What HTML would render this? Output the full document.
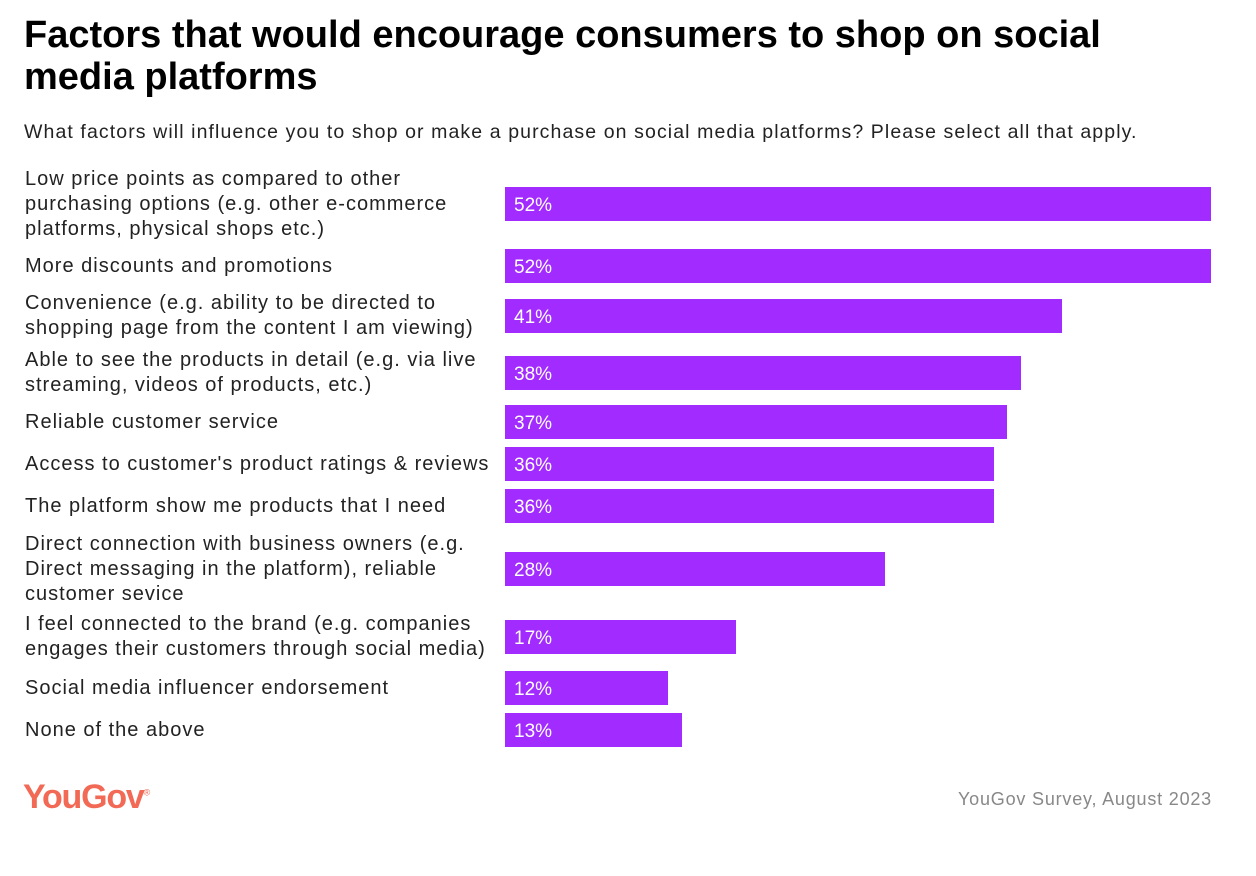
<!DOCTYPE html>
<html><head><meta charset="utf-8"><style>
body{margin:0;width:1256px;height:876px;background:#fff;font-family:"Liberation Sans",sans-serif;position:relative;overflow:hidden;color:#1a1a1a}
h1{position:absolute;left:24px;top:14px;margin:0;font-size:38px;line-height:42px;font-weight:bold;letter-spacing:0px;width:1130px;color:#000}
.sub{position:absolute;left:24px;top:121px;font-size:19.5px;letter-spacing:1.1px;color:#222;white-space:nowrap}
.lab{position:absolute;left:25px;font-size:20px;letter-spacing:1px;line-height:25px;color:#222;width:480px;white-space:nowrap}
.bar{position:absolute;height:34px;background:#a22bff}
.val{position:absolute;font-size:19px;color:#fff;line-height:34px}
.logo{position:absolute;left:23px;top:778px;font-size:34px;font-weight:bold;color:#f26a55;letter-spacing:-1.2px}
.src{position:absolute;right:44px;top:789px;font-size:18px;letter-spacing:0.8px;color:#888}
</style></head><body>
<h1>Factors that would encourage consumers to shop on social media platforms</h1>
<div class="sub">What factors will influence you to shop or make a purchase on social media platforms? Please select all that apply.</div>
<div id="chart"></div>
<div class="logo">YouGov<sup style="font-size:9px;font-weight:normal">®</sup></div>
<div class="src">YouGov Survey, August 2023</div>
<script>
const categories=["Low price points as compared to other<br>purchasing options (e.g. other e-commerce<br>platforms, physical shops etc.)","More discounts and promotions","Convenience (e.g. ability to be directed to<br>shopping page from the content I am viewing)","Able to see the products in detail (e.g. via live<br>streaming, videos of products, etc.)","Reliable customer service","Access to customer's product ratings &amp; reviews","The platform show me products that I need","Direct connection with business owners (e.g.<br>Direct messaging in the platform), reliable<br>customer sevice","I feel connected to the brand (e.g. companies<br>engages their customers through social media)","Social media influencer endorsement","None of the above"];
const values=[52,52,41,38,37,36,36,28,17,12,13];
const centers=[204,266,316,373,422,464,506,569,637,688,730];
const x0=505, scale=706/52;
const xScale=v=>v*scale;
const c=document.getElementById('chart');
categories.forEach((cat,i)=>{
  const lines=cat.split('<br>').length;
  const l=document.createElement('div');
  l.className='lab';
  
  
  l.style.top=(centers[i]-lines*25/2)+'px';
  l.innerHTML=cat;c.appendChild(l);
  const b=document.createElement('div');
  b.className='bar';
  
  
  b.style.left=x0+'px';b.style.top=(centers[i]-17)+'px';b.style.width=xScale(values[i])+'px';
  c.appendChild(b);
  const v=document.createElement('div');
  v.className='val';
  
  
  v.style.left=(x0+9)+'px';v.style.top=(centers[i]-15)+'px';
  v.textContent=values[i]+'%';c.appendChild(v);
});
</script>
</body></html>
